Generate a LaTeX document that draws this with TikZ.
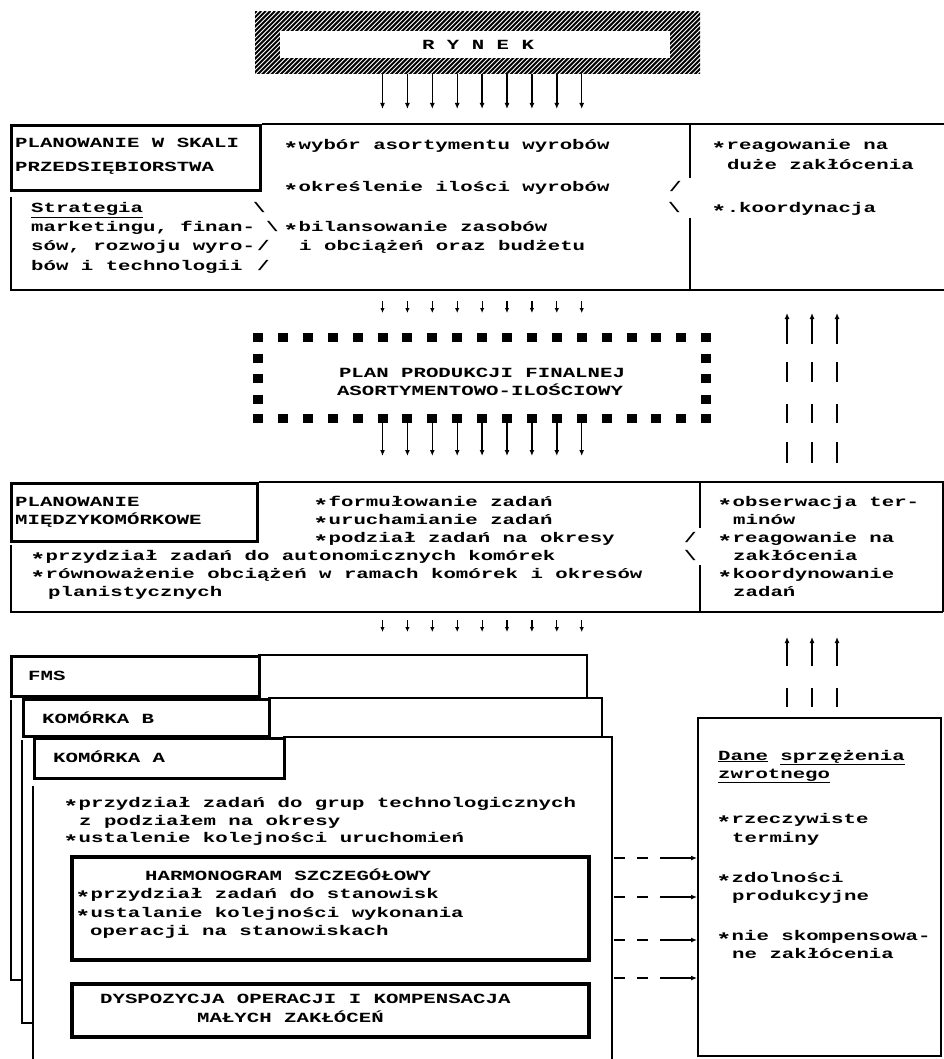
\documentclass[tikz,border=0pt]{standalone}
\usepackage{fontspec}
\usepackage{graphicx}
\newfontfamily\dm{Liberation Mono}[FakeStretch=1.48]
\usetikzlibrary{arrows.meta}
\tikzset{
  txt/.style={anchor=base west, inner sep=0pt, font=\dm\bfseries\fontsize{14}{17}\selectfont},
  ctxt/.style={anchor=base, inner sep=0pt, font=\dm\bfseries\fontsize{14}{17}\selectfont},
  thk/.style={line width=3pt},
  thn/.style={line width=1.6pt},
  arr/.style={line width=1.4pt, -{Latex[length=6pt,width=5pt]}},
  sarr/.style={line width=1.2pt, -{Latex[length=5pt,width=4.5pt]}},
  dsh/.style={line width=1.6pt, dash pattern=on 11pt off 12pt on 11pt off 12pt on 60pt off 0pt, -{Latex[length=6pt,width=5pt]}},
  sq/.style={fill=black},
}
\newcommand\stg{\raisebox{-5pt}{\scalebox{1.25}{*}}}
\newcommand\bu{\stg\kern-12.5pt\ }
\begin{document}
\begin{tikzpicture}[x=1pt,y=-1pt]
\useasboundingbox (0,0) rectangle (944,1059);
\fill[white] (0,0) rectangle (944,1059);

% ---------------- RYNEK
\begin{scope}
  \clip (255,12) rectangle (700,74);
  \foreach \k in {0,...,118} \draw[line width=2pt] ({188+\k*4.6},75) -- ++(64,-64);
\end{scope}
\fill[white] (280,31) rectangle (670,58);
\node[ctxt] (rynek) at (478,50) {R Y N E K};
\foreach \i in {5,...,13} \draw[arr] ({258+24.9*\i},74) -- ({258+24.9*\i},109);

% ---------------- top box
\node[draw, thk, anchor=north west, minimum width=249pt, minimum height=65pt, inner sep=0pt] (psk) at (10,124) {};
\draw[thn] (psk.north east) -- (944,124);
\draw[thn] (11,197) -- (11,290) -- (944,290);
\draw[thn] (690,124) -- (690,178);
\draw[thn] (690,218) -- (690,290);
\node[txt] (t1) at (15,148) {PLANOWANIE W SKALI};
\node[txt] (t2) at (15,172) {PRZEDSIĘBIORSTWA};
\node[txt] (t3) at (283,150) {\bu wybór asortymentu wyrobów};
\node[txt] (t4) at (283,192) {\bu określenie ilości wyrobów};
\node[txt] (t5) at (669,192) {/};
\node[txt] (t6) at (31,213) {\underline{Strategia}};
\node[txt] (t7) at (253,213) {\textbackslash};
\node[txt] (t8) at (31,232) {marketingu, finan-};
\node[txt] (t9) at (266,232) {\textbackslash};
\node[txt] (t10) at (283,232) {\bu bilansowanie zasobów};
\node[txt] (t11) at (31,251) {sów, rozwoju wyro-};
\node[txt] (t12) at (257,251) {/};
\node[txt] (t13) at (299,251) {i obciążeń oraz budżetu};
\node[txt] (t14) at (31,270) {bów i technologii};
\node[txt] (t15) at (257,270) {/};
\node[txt] (t16) at (711,150) {\bu reagowanie na};
\node[txt] (t17) at (727,170) {duże zakłócenia};
\node[txt] (t18) at (668,213) {\textbackslash};
\node[txt] (t19) at (711,213) {\stg.koordynacja};

% small arrows row 1
\foreach \i in {5,...,13} \draw[sarr] ({258+24.9*\i},301) -- ({258+24.9*\i},313);

% up arrows group 1
\foreach \x in {787,812,837} {
  \draw[arr] (\x,344) -- (\x,313);
  \draw[thn] (\x,362) -- (\x,382);
  \draw[thn] (\x,404) -- (\x,423);
  \draw[thn] (\x,442) -- (\x,463);
}

% ---------------- dotted box
\foreach \i in {0,...,18} {
  \fill[sq] ({253+24.9*\i},333) rectangle ++(10,9);
  \fill[sq] ({253+24.9*\i},414) rectangle ++(10,9);
}
\foreach \y in {353.5,374,394.5} {
  \fill[sq] (253,\y) rectangle ++(10,9);
  \fill[sq] ({253+24.9*18},\y) rectangle ++(10,9);
}
\node[ctxt] (p1) at (482,377) {PLAN PRODUKCJI FINALNEJ};
\node[ctxt] (p2) at (480,395) {ASORTYMENTOWO-ILOŚCIOWY};
\foreach \i in {5,...,13} \draw[arr] ({258+24.9*\i},423) -- ({258+24.9*\i},456);

% ---------------- second box
\node[draw, thk, anchor=north west, minimum width=246pt, minimum height=58pt, inner sep=0pt] (pmk) at (10,482) {};
\draw[thn] (pmk.north east) -- (943,482) -- (943,612);
\draw[thn] (11,545) -- (11,612) -- (943,612);
\draw[thn] (700,482) -- (700,528);
\draw[thn] (700,565) -- (700,612);
\node[txt] (s1) at (15,506) {PLANOWANIE};
\node[txt] (s2) at (15,524) {MIĘDZYKOMÓRKOWE};
\node[txt] (s3) at (313,506) {\bu formułowanie zadań};
\node[txt] (s4) at (313,524) {\bu uruchamianie zadań};
\node[txt] (s5) at (313,542) {\bu podział zadań na okresy};
\node[txt] (s6) at (684,542) {/};
\node[txt] (s7) at (30,560) {\bu przydział zadań do autonomicznych komórek};
\node[txt] (s8) at (684,560) {\textbackslash};
\node[txt] (s9) at (30,578) {\bu równoważenie obciążeń w ramach komórek i okresów};
\node[txt] (s10) at (48,596) {planistycznych};
\node[txt] (s11) at (717,506) {\bu obserwacja ter-};
\node[txt] (s12) at (733,524) {minów};
\node[txt] (s13) at (717,542) {\bu reagowanie na};
\node[txt] (s14) at (733,560) {zakłócenia};
\node[txt] (s15) at (717,578) {\bu koordynowanie};
\node[txt] (s16) at (733,596) {zadań};

% small arrows row 2
\foreach \i in {5,...,13} \draw[sarr] ({258+24.9*\i},620) -- ({258+24.9*\i},632);

% up arrows group 2
\foreach \x in {787,812,837} {
  \draw[arr] (\x,666) -- (\x,637);
  \draw[thn] (\x,688) -- (\x,707);
}

% ---------------- FMS stack
\draw[thn] (11,700) -- (11,980) -- (22,980);
\draw[thn] (22,740) -- (22,1023) -- (33,1023);
\draw[thn] (33,786) -- (33,1059);
\draw[thn] (258,655) -- (587,655) -- (587,698);
\draw[thn] (268,698) -- (602,698) -- (602,737);
\draw[thn] (283,737) -- (612,737) -- (612,1059);
\node[draw, thk, fill=white, anchor=north west, minimum width=248pt, minimum height=40pt, inner sep=0pt] (fms) at (10,655) {};
\node[draw, thk, fill=white, anchor=north west, minimum width=246pt, minimum height=37pt, inner sep=0pt] (kb) at (22,698) {};
\node[draw, thk, fill=white, anchor=north west, minimum width=250pt, minimum height=40pt, inner sep=0pt] (ka) at (33,737) {};
\node[txt] (f1) at (28,680) {FMS};
\node[txt] (f2) at (42,723) {KOMÓRKA B};
\node[txt] (f3) at (53,762) {KOMÓRKA A};
\node[txt] (a1) at (63,807) {\bu przydział zadań do grup technologicznych};
\node[txt] (a2) at (79,825) {z podziałem na okresy};
\node[txt] (a3) at (63,842) {\bu ustalenie kolejności uruchomień};

\node[draw, line width=3.5pt, anchor=north west, minimum width=517pt, minimum height=103pt, inner sep=0pt] (harm) at (70,855) {};
\node[txt] (h1) at (145,880) {HARMONOGRAM SZCZEGÓŁOWY};
\node[txt] (h2) at (75,898) {\bu przydział zadań do stanowisk};
\node[txt] (h3) at (75,917) {\bu ustalanie kolejności wykonania};
\node[txt] (h4) at (90,935) {operacji na stanowiskach};

\node[draw, line width=3.5pt, anchor=north west, minimum width=517pt, minimum height=53pt, inner sep=0pt] (dysp) at (70,982) {};
\node[txt] (d1) at (100,1003) {DYSPOZYCJA OPERACJI I KOMPENSACJA};
\node[txt] (d2) at (197,1022) {MAŁYCH ZAKŁÓCEŃ};

% ---------------- feedback box
\node[draw, thn, anchor=north west, minimum width=243pt, minimum height=338pt, inner sep=0pt] (dane) at (697,717) {};
\node[txt] (e1) at (718,760) {\underline{Dane} \underline{sprzężenia}};
\node[txt] (e2) at (718,778) {\underline{zwrotnego}};
\node[txt] (e3) at (716,823) {\bu rzeczywiste};
\node[txt] (e4) at (732,842) {terminy};
\node[txt] (e5) at (716,882) {\bu zdolności};
\node[txt] (e6) at (732,900) {produkcyjne};
\node[txt] (e7) at (716,940) {\bu nie skompensowa-};
\node[txt] (e8) at (732,958) {ne zakłócenia};

\foreach \y in {858,897,940,978} \draw[dsh] (614,\y) -- (dane.west |- 0,\y);
\end{tikzpicture}
\end{document}
